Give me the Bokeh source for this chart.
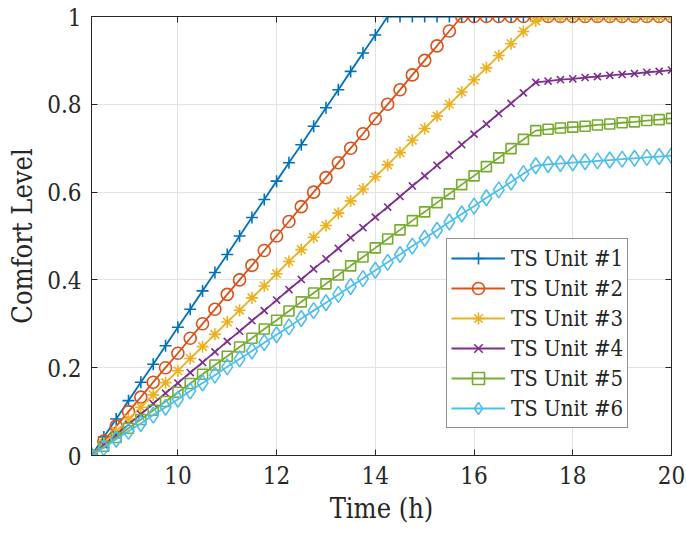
from bokeh.plotting import figure
from bokeh.models import (Range1d, FixedTicker, LinearAxis, Legend, LegendItem,
                          CustomJSTickFormatter, ColumnDataSource)
from bokeh.embed import file_html
from bokeh.resources import INLINE

time_h = [8.25, 8.5, 8.75, 9.0, 9.25, 9.5, 9.75, 10.0, 10.25, 10.5, 10.75, 11.0,
          11.25, 11.5, 11.75, 12.0, 12.25, 12.5, 12.75, 13.0, 13.25, 13.5, 13.75, 14.0,
          14.25, 14.5, 14.75, 15.0, 15.25, 15.5, 15.75, 16.0, 16.25, 16.5, 16.75, 17.0,
          17.25, 17.5, 17.75, 18.0, 18.25, 18.5, 18.75, 19.0, 19.25, 19.5, 19.75, 20.0]

unit1 = [0, 0.042, 0.083, 0.125, 0.167, 0.208, 0.25, 0.292, 0.333, 0.375, 0.417, 0.458,
         0.5, 0.542, 0.583, 0.625, 0.667, 0.708, 0.75, 0.792, 0.833, 0.875, 0.917, 0.958,
         1.0, 1.0, 1.0, 1.0, 1.0, 1.0, 1.0, 1.0, 1.0, 1.0, 1.0, 1.0,
         1.0, 1.0, 1.0, 1.0, 1.0, 1.0, 1.0, 1.0, 1.0, 1.0, 1.0, 1.0]
unit2 = [0, 0.033, 0.067, 0.1, 0.133, 0.167, 0.2, 0.233, 0.267, 0.3, 0.333, 0.367,
         0.4, 0.433, 0.467, 0.5, 0.533, 0.567, 0.6, 0.633, 0.667, 0.7, 0.733, 0.767,
         0.8, 0.833, 0.867, 0.9, 0.933, 0.967, 1.0, 1.0, 1.0, 1.0, 1.0, 1.0,
         1.0, 1.0, 1.0, 1.0, 1.0, 1.0, 1.0, 1.0, 1.0, 1.0, 1.0, 1.0]
unit3 = [0, 0.028, 0.055, 0.083, 0.110, 0.138, 0.166, 0.193, 0.221, 0.248, 0.276, 0.304,
         0.331, 0.359, 0.386, 0.414, 0.442, 0.469, 0.497, 0.524, 0.552, 0.580, 0.607, 0.635,
         0.662, 0.690, 0.718, 0.745, 0.773, 0.800, 0.828, 0.856, 0.883, 0.911, 0.938, 0.966,
         0.990, 1.0, 1.0, 1.0, 1.0, 1.0, 1.0, 1.0, 1.0, 1.0, 1.0, 1.0]
unit4 = [0, 0.024, 0.047, 0.071, 0.094, 0.118, 0.142, 0.165, 0.189, 0.212, 0.236, 0.260,
         0.283, 0.307, 0.330, 0.354, 0.378, 0.401, 0.425, 0.448, 0.472, 0.496, 0.519, 0.543,
         0.566, 0.590, 0.614, 0.637, 0.661, 0.684, 0.708, 0.732, 0.755, 0.779, 0.802, 0.826,
         0.850, 0.853, 0.856, 0.858, 0.861, 0.863, 0.866, 0.868, 0.870, 0.873, 0.875, 0.878]
unit5 = [0, 0.021, 0.041, 0.062, 0.082, 0.103, 0.123, 0.144, 0.164, 0.185, 0.206, 0.226,
         0.247, 0.267, 0.288, 0.308, 0.329, 0.350, 0.370, 0.391, 0.411, 0.432, 0.452, 0.473,
         0.493, 0.514, 0.535, 0.555, 0.576, 0.596, 0.617, 0.637, 0.658, 0.678, 0.699, 0.720,
         0.740, 0.743, 0.746, 0.748, 0.750, 0.753, 0.755, 0.758, 0.760, 0.763, 0.765, 0.768]
unit6 = [0, 0.018, 0.037, 0.055, 0.073, 0.092, 0.110, 0.128, 0.147, 0.165, 0.183, 0.202,
         0.220, 0.238, 0.257, 0.275, 0.293, 0.312, 0.330, 0.348, 0.367, 0.385, 0.403, 0.422,
         0.440, 0.458, 0.477, 0.495, 0.513, 0.532, 0.550, 0.568, 0.587, 0.605, 0.623, 0.642,
         0.660, 0.663, 0.665, 0.667, 0.669, 0.671, 0.673, 0.675, 0.677, 0.679, 0.681, 0.683]

series_names = ["TS Unit #1", "TS Unit #2", "TS Unit #3", "TS Unit #4", "TS Unit #5", "TS Unit #6"]
x_ticks = [10, 12, 14, 16, 18, 20]
y_ticks = [0, 0.2, 0.4, 0.6, 0.8, 1.0]

colors = ["#0072BD", "#D95319", "#EDB120", "#7E2F8E", "#77AC30", "#4DBEEE"]
markers = ["cross", "circle", "asterisk", "x", "square", "diamond"]
msizes = [12, 12, 12, 10, 10, 16]

FONT = "DejaVu Serif Condensed, DejaVu Serif"
AX = "#262626"

p = figure(width=686, height=539, output_backend="svg", toolbar_location=None,
           x_range=Range1d(8.25, 20), y_range=Range1d(0, 1),
           min_border_left=91, min_border_right=15, min_border_top=16, min_border_bottom=84)
p.background_fill_color = "white"
p.border_fill_color = "white"
p.outline_line_color = AX
p.outline_line_width = 1

for ax in (p.xaxis[0], p.yaxis[0]):
    ax.axis_line_color = AX
    ax.major_tick_line_color = AX
    ax.major_tick_in = 6
    ax.major_tick_out = 0
    ax.minor_tick_line_color = None
    ax.major_label_text_font = FONT
    ax.major_label_text_font_size = "24px"
    ax.major_label_text_color = AX
    ax.axis_label_text_font = FONT
    ax.axis_label_text_font_size = "27px"
    ax.axis_label_text_font_style = "normal"
    ax.axis_label_text_color = AX

p.xaxis.ticker = FixedTicker(ticks=x_ticks)
p.yaxis.ticker = FixedTicker(ticks=y_ticks)
p.yaxis.formatter = CustomJSTickFormatter(code="return String(Number(tick.toFixed(1)));")
p.xaxis.axis_label = "Time (h)"
p.yaxis.axis_label = "Comfort Level"
p.xaxis.major_label_standoff = 10
p.yaxis.major_label_standoff = 10
p.xaxis.axis_label_standoff = 6
p.yaxis.axis_label_standoff = 6

for loc, tk in (("right", y_ticks), ("above", x_ticks)):
    a = LinearAxis(ticker=FixedTicker(ticks=tk),
                   formatter=CustomJSTickFormatter(code="return '';"),
                   major_tick_in=6, major_tick_out=0, minor_tick_line_color=None,
                   axis_line_color=AX, major_tick_line_color=AX, major_label_standoff=0)
    p.add_layout(a, loc)

p.xgrid.ticker = FixedTicker(ticks=x_ticks)
p.ygrid.ticker = FixedTicker(ticks=y_ticks)
p.grid.grid_line_color = "#e3e3e3"
p.grid.grid_line_width = 1

all_series = [unit1, unit2, unit3, unit4, unit5, unit6]
items = []
for name, ys, c, m, s in zip(series_names, all_series, colors, markers, msizes):
    src = ColumnDataSource(dict(x=time_h, y=ys))
    ln = p.line("x", "y", source=src, line_color=c, line_width=1.8)
    sc = p.scatter("x", "y", source=src, marker=m, size=s, line_color=c,
                   fill_color=None, line_width=1.6)
    items.append(LegendItem(label=name, renderers=[ln, sc]))

legend = Legend(items=items, location=(355, 27), label_text_font=FONT,
                label_text_font_size="22px", label_text_color=AX,
                glyph_width=54, glyph_height=30, label_height=30, spacing=0,
                padding=4, margin=0, border_line_color=AX, border_line_width=1,
                background_fill_color="white", background_fill_alpha=1,
                label_standoff=6)
p.add_layout(legend, "center")

open("out.html", "w").write(file_html(p, INLINE))
